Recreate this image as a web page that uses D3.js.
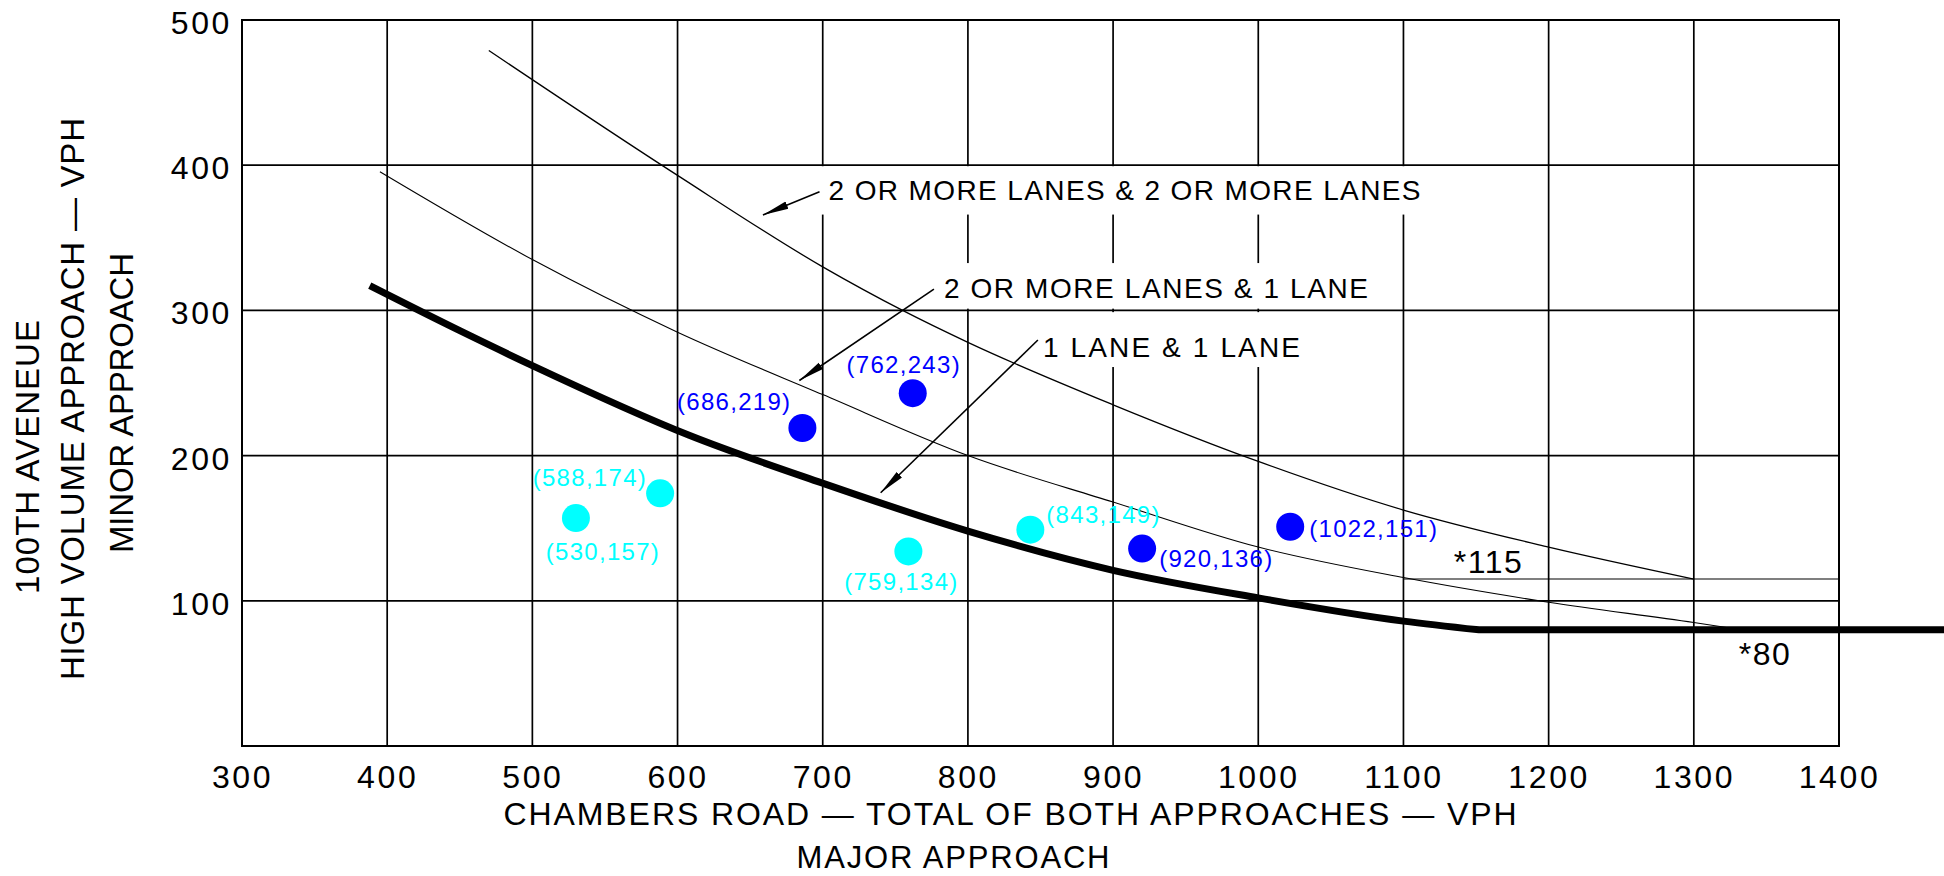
<!DOCTYPE html>
<html>
<head>
<meta charset="utf-8">
<script src="https://cdn.jsdelivr.net/npm/d3@7"></script>
<style>
  body { margin: 0; background: #fff; }
  svg text { font-family: "Liberation Sans", Arial, sans-serif; fill: #000; }
</style>
</head>
<body>
<div id="chart"></div>
<script>
// tick values
const xTicks = [300, 400, 500, 600, 700, 800, 900, 1000, 1100, 1200, 1300, 1400];
const yTicks = [100, 200, 300, 400, 500];

// warrant curves (major vph, minor vph)
const curve2and2 = [[470, 479], [600, 393], [700, 330], [755, 300], [800, 278], [900, 235],
  [1000, 196], [1100, 162.5], [1200, 137], [1300, 115]];
const curve2and1 = [[395, 395.5], [500, 335], [600, 285], [700, 242], [800, 200], [900, 168],
  [1000, 137], [1100, 116], [1200, 99], [1300, 85], [1333, 80]];
const curve1and1 = [[388, 317], [450, 286], [500, 262], [608, 214], [700, 181], [800, 148],
  [900, 121], [1000, 102], [1100, 86], [1152, 80]];
const floor80 = [1152, 1475]; // thick line runs flat at 80 past the grid
const line115 = [[1100, 115], [1400, 115]];

// observed hours
const cyanPoints = [[530, 157], [588, 174], [759, 134], [843, 149]];
const bluePoints = [[686, 219], [762, 243], [920, 136], [1022, 151]];

// callouts (text, start x, baseline y) and their arrows (tail -> tip)
const callouts = [
  ["2 OR MORE LANES & 2 OR MORE LANES", 704, 376],
  ["2 OR MORE LANES & 1 LANE", 783.5, 308.5],
  ["1 LANE & 1 LANE", 851.7, 268]
];
const arrows = [
  [[697.8, 381.7], [658.8, 365.7]],
  [[776.6, 314.7], [683.9, 251.7]],
  [[848.2, 279.6], [739.9, 174.4]]
];
const thresholds = [["*115", 1134.7, 119], ["*80", 1331, 55.8]];

// ---- layout (not data) ----
const W = 1944, H = 876;
const x = d3.scaleLinear().domain([300, 1400]).range([242, 1839]);
const y = d3.scaleLinear().domain([0, 500]).range([746, 20]);
const calloutLen = [592, 424, 257];
// grid gaps behind the callout text (data units)
const gaps = [
  { x0: 691, x1: 1118, y0: 366, y1: 399.3 },
  { x0: 774, x1: 1084, y0: 301.2, y1: 332.6 },
  { x0: 843, x1: 1035, y0: 261, y1: 298.8 }
];
const labelPos = {
  "530,157": { dx: 27, dy: 42, a: "middle" },
  "588,174": { dx: -13, dy: -7, a: "end" },
  "759,134": { dx: -7, dy: 39, a: "middle" },
  "843,149": { dx: 16, dy: -7, a: "start" },
  "686,219": { dx: -11, dy: -18, a: "end" },
  "762,243": { dx: -9, dy: -20, a: "middle" },
  "920,136": { dx: 17, dy: 18, a: "start" },
  "1022,151": { dx: 19, dy: 10, a: "start" }
};

const svg = d3.select("#chart").append("svg")
  .attr("width", W).attr("height", H);

svg.append("defs").append("marker")
  .attr("id", "head")
  .attr("viewBox", "0 0 26 10")
  .attr("markerUnits", "userSpaceOnUse")
  .attr("markerWidth", 26).attr("markerHeight", 10)
  .attr("refX", 26).attr("refY", 5)
  .attr("orient", "auto")
  .append("path").attr("d", "M0,1.2L26,5L0,8.8Z").attr("fill", "#000");

// vertical grid
svg.append("g").selectAll("line")
  .data(xTicks.slice(1, -1))
  .join("line")
  .attr("x1", d => x(d)).attr("x2", d => x(d))
  .attr("y1", y(0)).attr("y2", y(500))
  .attr("stroke", "#000").attr("stroke-width", 1.7);

// gaps under the callout text
svg.append("g").selectAll("rect")
  .data(gaps)
  .join("rect")
  .attr("x", d => x(d.x0)).attr("width", d => x(d.x1) - x(d.x0))
  .attr("y", d => y(d.y1)).attr("height", d => y(d.y0) - y(d.y1))
  .attr("fill", "#fff");

// horizontal grid
svg.append("g").selectAll("line")
  .data(yTicks.slice(0, -1))
  .join("line")
  .attr("x1", x(300)).attr("x2", x(1400))
  .attr("y1", d => y(d)).attr("y2", d => y(d))
  .attr("stroke", "#000").attr("stroke-width", 1.7);

svg.append("rect")
  .attr("x", x(300)).attr("y", y(500))
  .attr("width", x(1400) - x(300)).attr("height", y(0) - y(500))
  .attr("fill", "none").attr("stroke", "#000").attr("stroke-width", 2);

// curves
const line = d3.line().x(d => x(d[0])).y(d => y(d[1])).curve(d3.curveMonotoneX);
svg.append("path").attr("d", d3.line().x(d => x(d[0])).y(d => y(d[1]))(line115))
  .attr("fill", "none").attr("stroke", "#000").attr("stroke-width", 1.1);
svg.append("path").attr("d", line(curve2and2))
  .attr("fill", "none").attr("stroke", "#000").attr("stroke-width", 1.3);
svg.append("path").attr("d", line(curve2and1))
  .attr("fill", "none").attr("stroke", "#000").attr("stroke-width", 1.1);
svg.append("path")
  .attr("d", line(curve1and1) + `L${x(floor80[1])},${y(80)}`)
  .attr("fill", "none").attr("stroke", "#000").attr("stroke-width", 7)
  .attr("stroke-linejoin", "round");

// callouts
svg.append("g").selectAll("line")
  .data(arrows)
  .join("line")
  .attr("x1", d => x(d[0][0])).attr("y1", d => y(d[0][1]))
  .attr("x2", d => x(d[1][0])).attr("y2", d => y(d[1][1]))
  .attr("stroke", "#000").attr("stroke-width", 1.6)
  .attr("marker-end", "url(#head)");

svg.append("g").selectAll("text")
  .data(callouts)
  .join("text")
  .attr("x", d => x(d[1])).attr("y", d => y(d[2]))
  .attr("font-size", 28)
  .attr("textLength", (d, i) => calloutLen[i])
  .attr("lengthAdjust", "spacing")
  .text(d => d[0]);

svg.append("g").selectAll("text")
  .data(thresholds)
  .join("text")
  .attr("x", d => x(d[1])).attr("y", d => y(d[2]))
  .attr("font-size", 32).attr("letter-spacing", 1.5)
  .text(d => d[0]);

// observed points
function drawPoints(pts, color) {
  const g = svg.append("g");
  g.selectAll("circle")
    .data(pts)
    .join("circle")
    .attr("cx", d => x(d[0])).attr("cy", d => y(d[1]))
    .attr("r", 14).attr("fill", color);
  g.selectAll("text")
    .data(pts)
    .join("text")
    .attr("x", d => x(d[0]) + labelPos[d.join(",")].dx)
    .attr("y", d => y(d[1]) + labelPos[d.join(",")].dy)
    .attr("text-anchor", d => labelPos[d.join(",")].a)
    .attr("font-size", 24).attr("letter-spacing", 1.3)
    .style("fill", color)
    .text(d => `(${d[0]},${d[1]})`);
}
drawPoints(cyanPoints, "#00ffff");
drawPoints(bluePoints, "#0000ff");

// axes (labels only)
const gx = svg.append("g")
  .attr("transform", `translate(0,${y(0)})`)
  .call(d3.axisBottom(x).tickValues(xTicks).tickFormat(d3.format("d"))
    .tickSize(0).tickPadding(19));
gx.select(".domain").remove();
gx.selectAll("text").attr("font-size", 32).attr("letter-spacing", 2.6);

const gy = svg.append("g")
  .attr("transform", `translate(${x(300)},0)`)
  .call(d3.axisLeft(y).tickValues(yTicks).tickFormat(d3.format("d"))
    .tickSize(0).tickPadding(10));
gy.select(".domain").remove();
gy.selectAll("text").attr("font-size", 32).attr("letter-spacing", 2.6)
  .attr("dy", "0.42em");

// axis titles
svg.append("text")
  .attr("x", 1010).attr("y", 825).attr("text-anchor", "middle")
  .attr("font-size", 32).attr("textLength", 1013).attr("lengthAdjust", "spacing")
  .text("CHAMBERS ROAD \u2014 TOTAL OF BOTH APPROACHES \u2014 VPH");
svg.append("text")
  .attr("x", 953).attr("y", 868).attr("text-anchor", "middle")
  .attr("font-size", 31).attr("textLength", 313).attr("lengthAdjust", "spacing")
  .text("MAJOR APPROACH");

const yTitles = [
  ["100TH AVENEUE", 39, 457, 274],
  ["HIGH VOLUME APPROACH \u2014 VPH", 84, 399, 562],
  ["MINOR APPROACH", 133, 403, 300]
];
svg.append("g").selectAll("text")
  .data(yTitles)
  .join("text")
  .attr("transform", d => `translate(${d[1]},${d[2]}) rotate(-90)`)
  .attr("text-anchor", "middle")
  .attr("font-size", 33)
  .attr("textLength", d => d[3]).attr("lengthAdjust", "spacing")
  .text(d => d[0]);
</script>
</body>
</html>
